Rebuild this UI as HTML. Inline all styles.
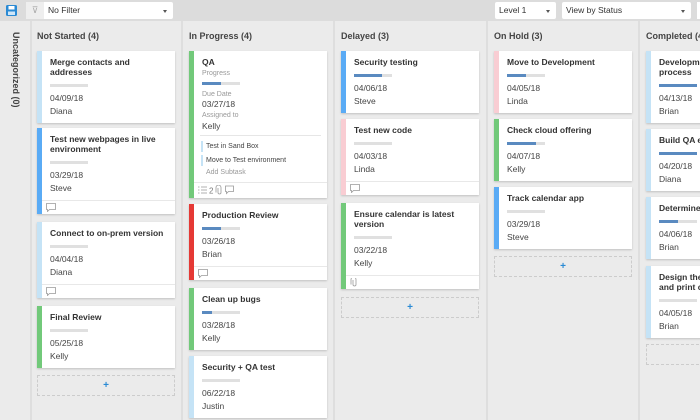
<!DOCTYPE html>
<html><head><meta charset="utf-8">
<style>
*{box-sizing:border-box;margin:0;padding:0}
body{width:700px;height:420px;overflow:hidden;background:#ebebeb;font-family:"Liberation Sans",Arial,sans-serif;position:relative;color:#444}
.tb{position:absolute;left:0;top:0;width:700px;height:21px;background:#dcdcdc}
.sel{position:absolute;top:2px;height:17px;background:#fff;border-radius:2px;font-size:8.5px;line-height:17px;padding-left:4px;color:#333}
.sel:after{content:"";position:absolute;right:6px;top:8px;border-left:2.5px solid transparent;border-right:2.5px solid transparent;border-top:3px solid #555}
.div{position:absolute;top:21px;width:2px;height:399px;background:#dedede}
.hd{position:absolute;top:31px;font-weight:bold;font-size:9px;line-height:10px;color:#444;white-space:nowrap}
.c{position:absolute;width:138px;background:#fff;border-left:5px solid #c5e3f6;box-shadow:0 1px 2px rgba(0,0,0,.18);padding:6px 8px 7px 8px;white-space:nowrap}
.t{font-weight:bold;font-size:8.5px;line-height:10px;color:#333}
.b{margin-top:7px;width:38px;height:3px;background:#e0e0e0;position:relative}
.b i{position:absolute;left:0;top:0;height:3px;background:#5a8ac0}
.d{margin-top:6px;font-size:8.5px;line-height:10px}
.n{margin-top:3px;font-size:8.5px;line-height:10px}
.f{position:absolute;left:0;right:0;bottom:0;height:14px;border-top:1px solid #e8e8e8;background:#fff}
.f svg{position:absolute;left:4px;top:2px}
.add{position:absolute;width:138px;height:21px;border:1px dashed #ccc;color:#2a8ad4;font-size:10px;font-weight:bold;text-align:center;line-height:19px}
.lb{border-left-color:#c5e3f6}.bl{border-left-color:#5aabf5}.gr{border-left-color:#72c97a}.rd{border-left-color:#e53935}.pk{border-left-color:#f9cdd3}
.q{position:absolute;font-size:7px;color:#999;line-height:8px}
.clip{position:absolute;left:640px;top:0;width:60px;height:420px;overflow:hidden}
</style></head><body>
<div class="tb"></div>
<svg style="position:absolute;left:6px;top:5px" width="11" height="11" viewBox="0 0 11 11"><rect x="0" y="0" width="11" height="11" rx="1.5" fill="#2a8ad4"/><rect x="2.5" y="1" width="6" height="3.5" fill="#fff"/><rect x="2" y="6.5" width="7" height="3.5" fill="#cfe6f8"/></svg>
<div class="sel" style="left:26px;width:147px;padding-left:22px">No Filter</div>
<div style="position:absolute;left:26px;top:2px;width:18px;height:17px;background:#eee;color:#aaa;font-size:9px;text-align:center;line-height:17px">⊽</div>
<div class="sel" style="left:495px;width:61px">Level 1</div>
<div class="sel" style="left:562px;width:129px">View by Status</div>
<div style="position:absolute;left:697px;top:2px;width:3px;height:17px;background:#fff"></div>

<div class="div" style="left:30px"></div>
<div class="div" style="left:181px"></div>
<div class="div" style="left:333px"></div>
<div class="div" style="left:486px"></div>
<div class="div" style="left:638px"></div>

<div style="position:absolute;left:10px;top:32px;width:10px;height:78px"><div style="transform:rotate(90deg);transform-origin:0 0;position:absolute;left:11px;top:0;font-weight:bold;font-size:9px;line-height:10px;white-space:nowrap;color:#444">Uncategorized (0)</div></div>

<div class="hd" style="left:37px">Not Started (4)</div>
<div class="hd" style="left:189px">In Progress (4)</div>
<div class="hd" style="left:341px">Delayed (3)</div>
<div class="hd" style="left:494px">On Hold (3)</div>

<!-- Not Started -->
<div class="c lb" style="left:37px;top:51px"><div class="t">Merge contacts and<br>addresses</div><div class="b"></div><div class="d">04/09/18</div><div class="n">Diana</div></div>
<div class="c bl" style="left:37px;top:128px;padding-bottom:21px"><div class="t">Test new webpages in live<br>environment</div><div class="b"></div><div class="d">03/29/18</div><div class="n">Steve</div><div class="f"><svg width="10" height="9" viewBox="0 0 10 9"><path d="M0.5 0.5h9v6h-6l-2 2v-2h-1z" fill="none" stroke="#999" stroke-width="0.8"/></svg></div></div>
<div class="c lb" style="left:37px;top:222px;padding-bottom:21px"><div class="t">Connect to on-prem version</div><div class="b"></div><div class="d">04/04/18</div><div class="n">Diana</div><div class="f"><svg width="10" height="9" viewBox="0 0 10 9"><path d="M0.5 0.5h9v6h-6l-2 2v-2h-1z" fill="none" stroke="#999" stroke-width="0.8"/></svg></div></div>
<div class="c gr" style="left:37px;top:306px"><div class="t">Final Review</div><div class="b"></div><div class="d">05/25/18</div><div class="n">Kelly</div></div>
<div class="add" style="left:37px;top:375px">+</div>

<!-- In Progress -->
<div class="c gr" style="left:189px;top:51px;height:147px">
<div class="t">QA</div>
<div class="q" style="left:8px;top:19px">Progress</div>
<div class="b" style="position:absolute;left:8px;top:31px;margin:0"><i style="width:19px"></i></div>
<div class="q" style="left:8px;top:40px">Due Date</div>
<div style="position:absolute;left:8px;top:48px;font-size:8.5px;line-height:10px">03/27/18</div>
<div class="q" style="left:8px;top:61px">Assigned to</div>
<div style="position:absolute;left:8px;top:70px;font-size:8.5px;line-height:10px">Kelly</div>
<div style="position:absolute;left:6px;right:6px;top:84px;height:1px;background:#e6e6e6"></div>
<div style="position:absolute;left:7px;top:90px;width:2px;height:11px;background:#c5e3f6"></div>
<div style="position:absolute;left:12px;top:91px;font-size:7px;line-height:9px;color:#444">Test in Sand Box</div>
<div style="position:absolute;left:7px;top:104px;width:2px;height:11px;background:#c5e3f6"></div>
<div style="position:absolute;left:12px;top:105px;font-size:7px;line-height:9px;color:#444">Move to Test environment</div>
<div class="q" style="left:12px;top:118px">Add Subtask</div>
<div class="f" style="height:16px"><svg width="40" height="10" viewBox="0 0 40 10"><g stroke="#999" stroke-width="0.8" fill="none"><path d="M0 2h1.5M3 2h6M0 5h1.5M3 5h6M0 8h1.5M3 8h6"/><path d="M20 3v4.5a1.5 1.5 0 0 0 3 0v-5a2.5 2.5 0 0 0-5 0v5"/><path d="M27.5 1h8v5.5h-5l-2 2v-2h-1z"/></g><text x="11" y="8.5" font-size="8" fill="#777" font-family="Liberation Sans">2</text></svg></div>
</div>
<div class="c rd" style="left:189px;top:204px;padding-bottom:21px"><div class="t">Production Review</div><div class="b"><i style="width:19px"></i></div><div class="d">03/26/18</div><div class="n">Brian</div><div class="f"><svg width="10" height="9" viewBox="0 0 10 9"><path d="M0.5 0.5h9v6h-6l-2 2v-2h-1z" fill="none" stroke="#999" stroke-width="0.8"/></svg></div></div>
<div class="c gr" style="left:189px;top:288px"><div class="t">Clean up bugs</div><div class="b"><i style="width:10px"></i></div><div class="d">03/28/18</div><div class="n">Kelly</div></div>
<div class="c lb" style="left:189px;top:356px"><div class="t">Security + QA test</div><div class="b"></div><div class="d">06/22/18</div><div class="n">Justin</div></div>

<!-- Delayed -->
<div class="c bl" style="left:341px;top:51px"><div class="t">Security testing</div><div class="b"><i style="width:28px"></i></div><div class="d">04/06/18</div><div class="n">Steve</div></div>
<div class="c pk" style="left:341px;top:119px;padding-bottom:21px"><div class="t">Test new code</div><div class="b"></div><div class="d">04/03/18</div><div class="n">Linda</div><div class="f"><svg width="10" height="9" viewBox="0 0 10 9"><path d="M0.5 0.5h9v6h-6l-2 2v-2h-1z" fill="none" stroke="#999" stroke-width="0.8"/></svg></div></div>
<div class="c gr" style="left:341px;top:203px;padding-bottom:21px"><div class="t">Ensure calendar is latest<br>version</div><div class="b"></div><div class="d">03/22/18</div><div class="n">Kelly</div><div class="f"><svg width="10" height="9" viewBox="0 0 10 9"><path d="M3 2v4.5a1.5 1.5 0 0 0 3 0v-5a2.5 2.5 0 0 0-5 0v5" fill="none" stroke="#999" stroke-width="0.8"/></svg></div></div>
<div class="add" style="left:341px;top:297px">+</div>

<!-- On Hold -->
<div class="c pk" style="left:494px;top:51px"><div class="t">Move to Development</div><div class="b"><i style="width:19px"></i></div><div class="d">04/05/18</div><div class="n">Linda</div></div>
<div class="c gr" style="left:494px;top:119px"><div class="t">Check cloud offering</div><div class="b"><i style="width:29px"></i></div><div class="d">04/07/18</div><div class="n">Kelly</div></div>
<div class="c bl" style="left:494px;top:187px"><div class="t">Track calendar app</div><div class="b"></div><div class="d">03/29/18</div><div class="n">Steve</div></div>
<div class="add" style="left:494px;top:256px">+</div>

<!-- Completed (clipped at frame edge) -->
<div class="clip">
<div class="hd" style="left:6px">Completed (4)</div>
<div class="c lb" style="left:6px;top:51px"><div class="t">Development review<br>process</div><div class="b"><i style="width:38px"></i></div><div class="d">04/13/18</div><div class="n">Brian</div></div>
<div class="c lb" style="left:6px;top:129px"><div class="t">Build QA environment</div><div class="b"><i style="width:38px"></i></div><div class="d">04/20/18</div><div class="n">Diana</div></div>
<div class="c lb" style="left:6px;top:197px"><div class="t">Determine scope</div><div class="b"><i style="width:19px"></i></div><div class="d">04/06/18</div><div class="n">Brian</div></div>
<div class="c lb" style="left:6px;top:266px"><div class="t">Design the brochure<br>and print collateral</div><div class="b"></div><div class="d">04/05/18</div><div class="n">Brian</div></div>
<div class="add" style="left:6px;top:344px"></div>
</div>
</body></html>
